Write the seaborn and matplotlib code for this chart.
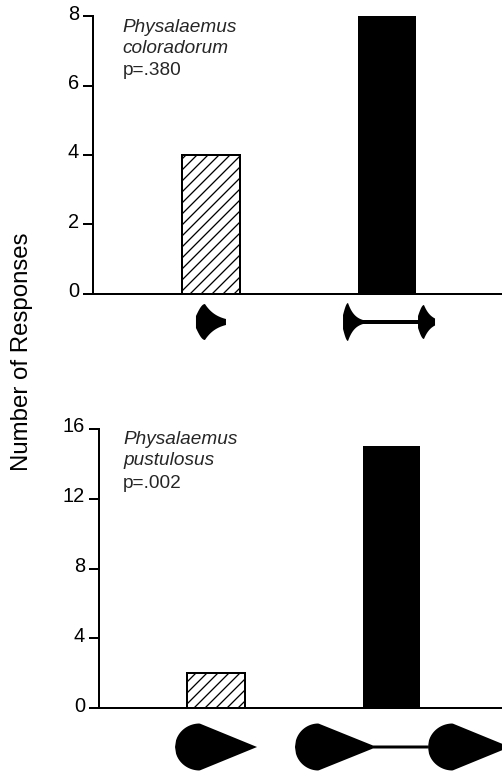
import numpy as np
import matplotlib
matplotlib.use("Agg")
import matplotlib.pyplot as plt
import matplotlib.transforms as mtransforms
from matplotlib.patches import Polygon
import seaborn as sns

# ---------------- data ----------------
stimuli_top = ["single call", "call pair"]
coloradorum_counts = [4, 8]
stimuli_bottom = ["single call ", "call pair "]
pustulosus_counts = [2, 15]
species_names = [("Physalaemus", "coloradorum"), ("Physalaemus", "pustulosus")]
p_labels = ["p=.380", "p=.002"]
top_ticks = [0, 2, 4, 6, 8]
bottom_ticks = [0, 4, 8, 12, 16]
y_label = "Number of Responses"

# ---------------- setup ----------------
DPI = 132
PT = 72 / DPI          # points per pixel
W, H = 502, 773

sns.set_style("ticks")
plt.rcParams["font.family"] = ["Liberation Sans", "DejaVu Sans"]
plt.rcParams["hatch.linewidth"] = 1.3 * PT
plt.rcParams["hatch.color"] = "black"

fig = plt.figure(figsize=(W / DPI, H / DPI), dpi=DPI)


def px_box(left, top, right, bottom):
    return [left / W, 1 - bottom / H, (right - left) / W, (bottom - top) / H]


def icon_transform(ax, xcat):
    return (mtransforms.Affine2D().scale(1 / DPI) + fig.dpi_scale_trans
            + mtransforms.ScaledTranslation(xcat, 0, ax.transData))


def spiky_blob(x0, x1, A, peak=0.3, start=4.0, end=2.0, n=60):
    u = np.linspace(0, 1, n)
    rise = start + (A - start) * np.sin(np.pi / 2 * np.clip(u / peak, 0, 1))
    decay = A * np.exp(-np.log(A / end) * (u - peak) / (1 - peak))
    a = np.where(u < peak, rise, decay)
    return x0 + u * (x1 - x0), a


def round_blob(x0, x1, A, peak=0.3, end=0.0, n=80):
    u = np.linspace(0, 1, n)
    rise = A * np.sqrt(np.clip(1 - ((peak - u) / peak) ** 2, 0, 1))
    decay = end + (A - end) * (1 - (u - peak) / (1 - peak))
    a = np.where(u < peak, rise, decay)
    return x0 + u * (x1 - x0), a


def flat(x0, x1, h):
    return np.array([x0, x1]), np.array([h, h])


def draw_icon(ax, xcat, yc, parts):
    xs = np.concatenate([p[0] for p in parts])
    aa = np.concatenate([p[1] for p in parts])
    upper = np.column_stack([xs, yc + aa])
    lower = np.column_stack([xs[::-1], yc - aa[::-1]])
    verts = np.vstack([upper, lower])
    poly = Polygon(verts, closed=True, facecolor="black", edgecolor="none",
                   transform=icon_transform(ax, xcat), clip_on=False)
    ax.add_patch(poly)


def panel(box, cats, counts, ticks, names, ptxt, text_x, text_ys):
    ax = fig.add_axes(box)
    sns.barplot(x=cats, y=counts, hue=cats, palette=["white", "black"],
                width=0.33, edgecolor="black", linewidth=2 * PT,
                legend=False, ax=ax, saturation=1)
    ax.patches[0].set_hatch("////")
    ax.patches[1].set_linewidth(0)
    ax.set_ylim(ticks[0], ticks[-1])
    ax.set_yticks(ticks)
    ax.set_xticks([])
    ax.set_xlabel("")
    ax.set_ylabel("")
    sns.despine(ax=ax)
    for s in ("left", "bottom"):
        ax.spines[s].set_linewidth(2 * PT)
        ax.spines[s].set_color("black")
    ax.tick_params(axis="y", length=10 * PT, width=2 * PT, pad=4 * PT,
                   labelsize=20 * PT, color="black", labelcolor="black")
    lift = mtransforms.ScaledTranslation(0, 4 / DPI, fig.dpi_scale_trans)
    for lab in ax.get_yticklabels():
        lab.set_transform(lab.get_transform() + lift)
    ax.set_facecolor("none")
    ax.text(text_x, text_ys[0], names[0], transform=ax.transAxes,
            ha="left", va="baseline", fontsize=19 * PT, style="italic")
    ax.text(text_x, text_ys[1], names[1], transform=ax.transAxes,
            ha="left", va="baseline", fontsize=19 * PT, style="italic")
    ax.text(text_x, text_ys[2], ptxt, transform=ax.transAxes,
            ha="left", va="baseline", fontsize=19 * PT)
    return ax


ax1 = panel(px_box(93, 16, 502, 294), stimuli_top, coloradorum_counts,
            top_ticks, species_names[0], p_labels[0], 0.073,
            (0.942, 0.867, 0.788))
ax2 = panel(px_box(99, 429, 502, 708), stimuli_bottom, pustulosus_counts,
            bottom_ticks, species_names[1], p_labels[1], 0.06,
            (0.946, 0.871, 0.789))

# stimulus oscillogram icons
draw_icon(ax1, 0, -28, [spiky_blob(-15, 15, 18, peak=0.3, start=6, end=3)])
draw_icon(ax1, 1, -28, [spiky_blob(-44, -24, 19, peak=0.25, start=7, end=2),
                        flat(-24, 31, 2),
                        spiky_blob(31, 48, 17, peak=0.35, start=6, end=3.5)])
draw_icon(ax2, 0, -39, [round_blob(-41, 41, 23.5, peak=0.3, end=0.0)])
draw_icon(ax2, 1, -39, [round_blob(-96.5, -18.5, 23.5, peak=0.3, end=1.5),
                        flat(-18.5, 36.5, 1.5),
                        round_blob(36.5, 118.5, 23.5, peak=0.3, end=0.0)])

ax1.set_xlim(-0.670, 1.653)
ax1.set_ylim(0, 8)
ax2.set_xlim(-0.667, 1.630)
ax2.set_ylim(0, 16)

fig.text(22 / W, 1 - 352 / H, y_label, rotation=90, ha="center", va="center",
         fontsize=24 * PT, color="black")

fig.savefig("out.png", dpi=DPI, facecolor="white")
